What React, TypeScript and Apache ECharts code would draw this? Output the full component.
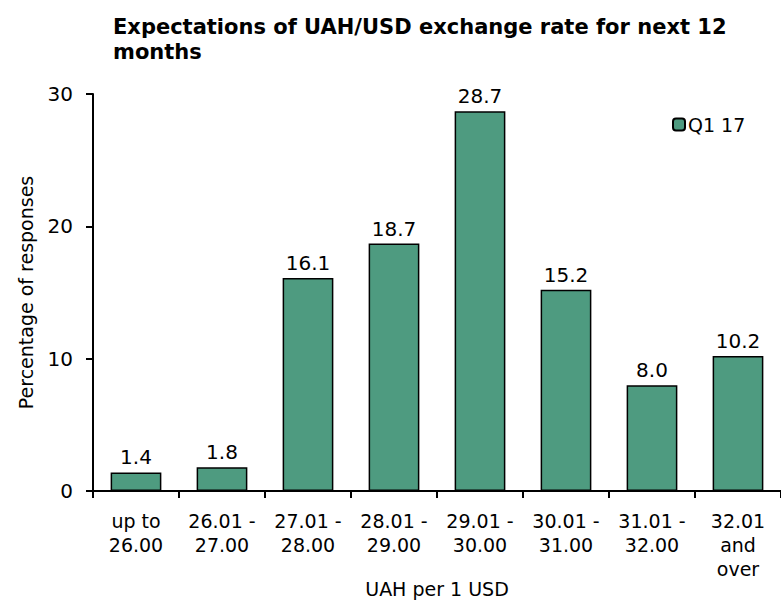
import React, { useEffect, useRef } from "react";
import * as echarts from "echarts";

const categories = [
  "up to\n26.00",
  "26.01 -\n27.00",
  "27.01 -\n28.00",
  "28.01 -\n29.00",
  "29.01 -\n30.00",
  "30.01 -\n31.00",
  "31.01 -\n32.00",
  "32.01\nand\nover",
];
const seriesName = "Q1 17";
const values = [1.4, 1.8, 16.1, 18.7, 28.7, 15.2, 8.0, 10.2];
const yTicks = { min: 0, max: 30, interval: 10 };

const FONT = "'DejaVu Sans', 'Liberation Sans', Arial, sans-serif";

export default function App() {
  const ref = useRef<HTMLDivElement>(null);
  useEffect(() => {
    if (!ref.current) return;
    const chart = echarts.init(ref.current, null, { renderer: "svg" });
    chart.setOption({
      animation: false,
      backgroundColor: "#ffffff",
      textStyle: { fontFamily: FONT, color: "#000" },
      title: {
        text: "Expectations of UAH/USD exchange rate for next 12\nmonths",
        left: 108,
        top: 9,
        textStyle: {
          fontFamily: FONT,
          fontWeight: "bold",
          fontSize: 21,
          lineHeight: 25,
          color: "#000",
        },
      },
      legend: {
        data: [seriesName],
        left: 667,
        top: 110,
        itemWidth: 12,
        itemHeight: 12,
        itemGap: 5,
        textStyle: { fontFamily: FONT, fontSize: 19, color: "#000", padding: [0, 0, 0, -2] },
      },
      grid: {
        left: 93,
        top: 94,
        width: 688,
        height: 397,
        containLabel: false,
        outerBoundsMode: "none",
      },
      xAxis: {
        type: "category",
        data: categories,
        name: "UAH per 1 USD",
        nameLocation: "middle",
        nameGap: 88,
        nameMoveOverlap: false,
        nameTextStyle: { fontFamily: FONT, fontSize: 19, lineHeight: 20, color: "#000" },
        axisLine: { lineStyle: { color: "#000", width: 2 } },
        axisTick: { show: true, length: 7, alignWithLabel: false, lineStyle: { color: "#000", width: 2 } },
        axisLabel: {
          interval: 0,
          margin: 18,
          fontFamily: FONT,
          fontSize: 19,
          lineHeight: 24,
          color: "#000",
        },
      },
      yAxis: {
        type: "value",
        min: yTicks.min,
        max: yTicks.max,
        interval: yTicks.interval,
        name: "Percentage of responses",
        nameLocation: "middle",
        nameGap: 58,
        nameTextStyle: { fontFamily: FONT, fontSize: 19, color: "#000" },
        axisLine: { show: true, lineStyle: { color: "#000", width: 2 } },
        axisTick: { show: true, length: 7, lineStyle: { color: "#000", width: 2 } },
        splitLine: { show: false },
        axisLabel: { margin: 20, fontFamily: FONT, fontSize: 20, color: "#000" },
      },
      series: [
        {
          name: seriesName,
          type: "bar",
          data: values,
          barWidth: "59%",
          itemStyle: { color: "#4E9B80", borderColor: "#000", borderWidth: 1.5 },
          label: {
            show: true,
            position: "top",
            distance: 5,
            fontFamily: FONT,
            fontSize: 20,
            color: "#000",
            formatter: (p: any) => Number(p.value).toFixed(1),
          },
        },
      ],
    });
    return () => chart.dispose();
  }, []);
  return (
    <div
      ref={ref}
      style={{ position: "fixed", left: 0, top: 0, width: 781, height: 601 }}
    />
  );
}
